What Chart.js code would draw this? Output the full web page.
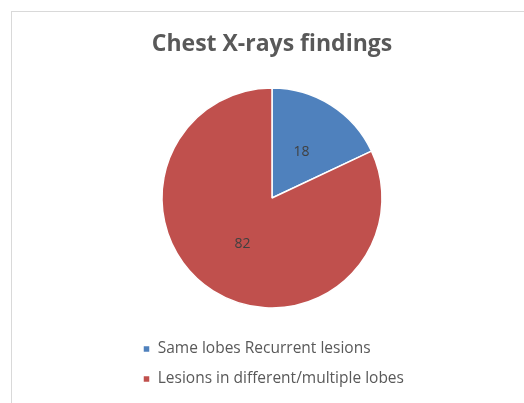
<!DOCTYPE html>
<html>
<head>
<meta charset="utf-8">
<script src="https://cdn.jsdelivr.net/npm/chart.js@4/dist/chart.umd.min.js"></script>
<style>
  html, body { margin: 0; padding: 0; background: #ffffff; }
  #wrap { position: relative; width: 524px; height: 403px; overflow: hidden; }
  #frame { position: absolute; left: 11px; top: 11px; width: 600px; height: 500px;
           border-left: 1px solid #d9d9d9; border-top: 1px solid #d9d9d9; pointer-events: none; }
  canvas { position: absolute; left: 0; top: 0; }
</style>
</head>
<body>
<div id="wrap">
  <canvas id="c" width="524" height="403"></canvas>
  <div id="frame"></div>
</div>
<script>
const titleText = "Chest X-rays findings";
const categories = ["Same lobes Recurrent lesions", "Lesions in different/multiple lobes"];
const values = [18, 82];
const sliceColors = ["#4F81BD", "#C0504D"];

const valueLabels = {
  id: "valueLabels",
  afterDatasetsDraw(chart) {
    const ctx = chart.ctx;
    const meta = chart.getDatasetMeta(0);
    ctx.save();
    ctx.font = "14px 'Open Sans'";
    ctx.fillStyle = "#404040";
    ctx.textAlign = "center";
    ctx.textBaseline = "middle";
    meta.data.forEach((arc, i) => {
      const p = arc.getCenterPoint();
      ctx.fillText(String(chart.data.datasets[0].data[i]), p.x, p.y);
    });
    ctx.restore();
  }
};

new Chart(document.getElementById("c"), {
  type: "pie",
  data: {
    labels: categories,
    datasets: [{
      data: values,
      backgroundColor: sliceColors,
      borderColor: "#ffffff",
      borderWidth: 1.5,
      radius: 110
    }]
  },
  options: {
    responsive: false,
    devicePixelRatio: 1,
    animation: false,
    layout: { padding: { left: 128.5, right: 108.5, top: 0, bottom: 6.25 } },
    plugins: {
      title: {
        display: true,
        text: titleText,
        color: "#595959",
        font: { family: "'Open Sans'", size: 23, weight: "bold", lineHeight: 1.2 },
        padding: { top: 31, bottom: 10.65 }
      },
      legend: {
        display: true,
        position: "bottom",
        align: "start",
        labels: {
          color: "#595959",
          font: { family: "'Open Sans'", size: 15.5 },
          boxWidth: 7,
          boxHeight: 7,
          padding: 14.5
        }
      },
      tooltip: { enabled: false }
    }
  },
  plugins: [valueLabels]
});
</script>
</body>
</html>
